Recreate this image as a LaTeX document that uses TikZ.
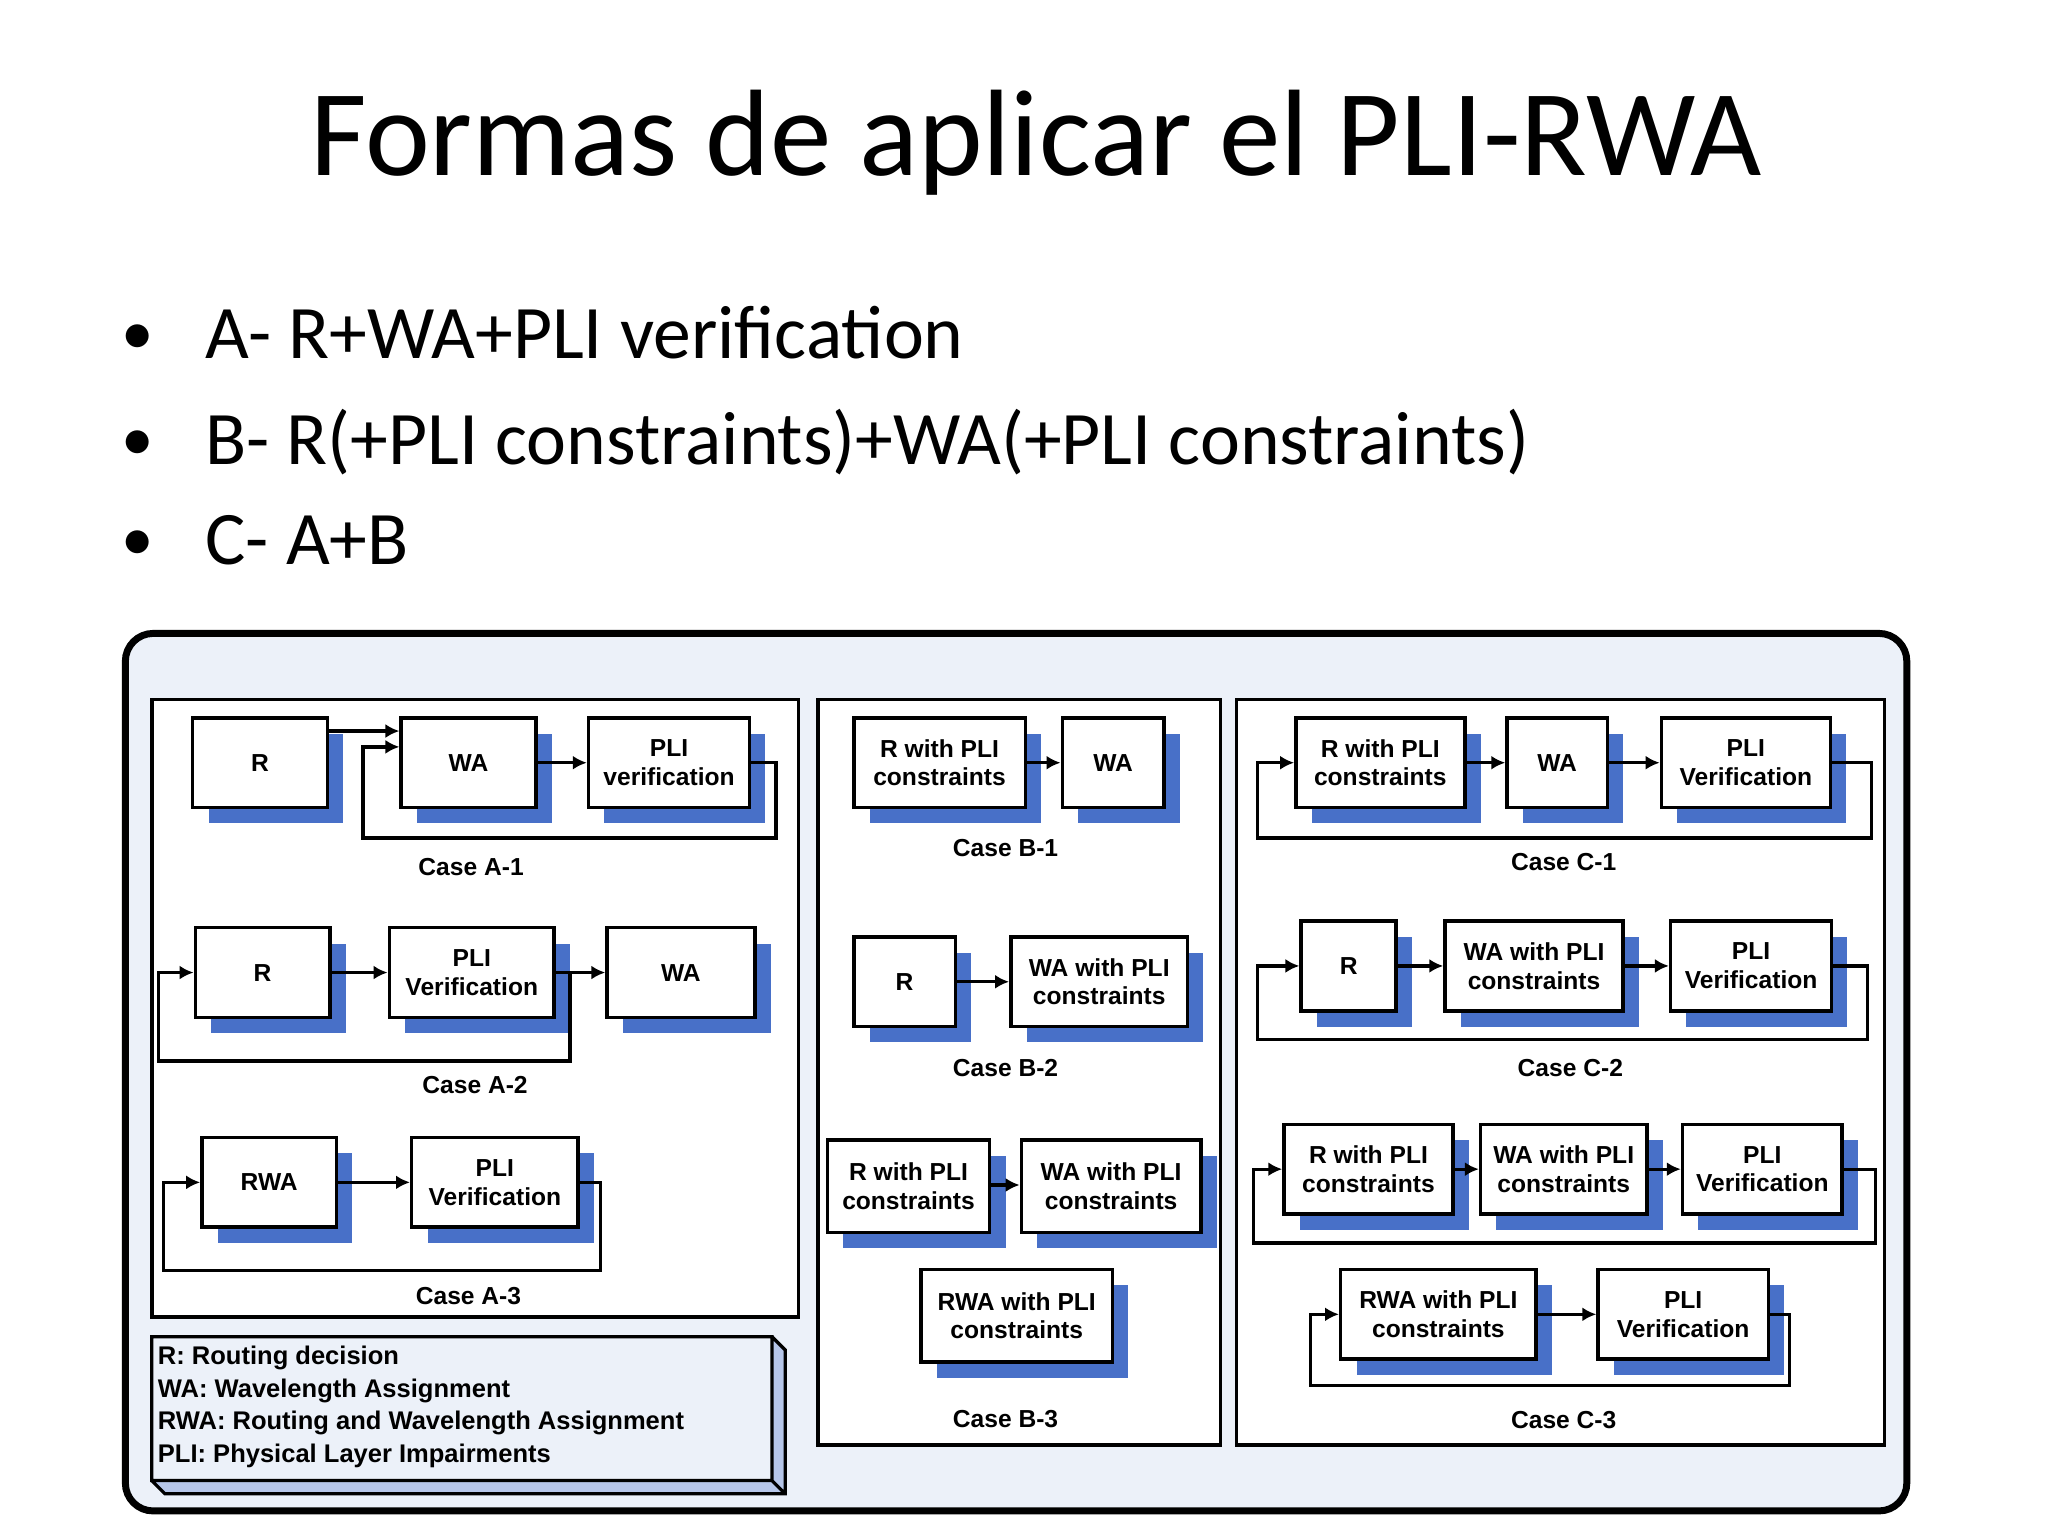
\documentclass[tikz,border=0pt]{standalone}
\usepackage{fontspec}
\setmainfont{Carlito}
\newfontfamily\dg{Liberation Sans}
\usetikzlibrary{arrows.meta,shadows}
\definecolor{shblue}{RGB}{72,112,200}
\definecolor{panelbg}{RGB}{236,241,249}
\tikzset{
 box/.style={draw=black,line width=0.75pt,fill=white,inner sep=1pt,align=center,font=\dg\bfseries\fontsize{5.3}{6.2}\selectfont,
  drop shadow={shadow xshift=0.12cm,shadow yshift=-0.12cm,fill=shblue,opacity=1}},
 arr/.style={line width=0.7pt,-{Latex[length=3pt,width=3pt]}},
 panel/.style={draw=black,line width=0.8pt,fill=white},
 lbl/.style={font=\dg\bfseries\fontsize{5.3}{6.2}\selectfont},
}
\newcommand\bx[6]{\pgfmathsetmacro\bw{(#4-#2)*0.01}\pgfmathsetmacro\bh{(#5-#3)*0.01}%
 \node[box,minimum width=\bw cm,minimum height=\bh cm] (#1) at ({(#2+#4)/2},{(#3+#5)/2}) {#6};}
\begin{document}
\begin{tikzpicture}[x=0.01cm,y=-0.01cm]
\useasboundingbox (0,0) rectangle (1552,1164);
\node[anchor=base,font=\fontsize{26.5}{29}\selectfont] (title) at (785,133) {Formas de aplicar el PLI-RWA};
\foreach \t/\y [count=\i] in {{A- R+WA+PLI verification}/272,{B- R(+PLI constraints)+WA(+PLI constraints)}/352,{C- A+B}/428}{
 \node[anchor=base,font=\fontsize{14}{16}\selectfont] (bul\i) at (104,\y-3) {•};
 \node[anchor=base west,font=\fontsize{16.3}{18}\selectfont,inner sep=0] (bt\i) at (155,\y) {\t};}
\draw[line width=1.5pt,rounded corners=6pt,fill=panelbg] (95,480) rectangle (1445,1145);
\draw[panel] (115,530) rectangle (605,998);
\draw[panel] (620,530) rectangle (925,1095);
\draw[panel] (937,530) rectangle (1428,1095);
% legend
\fill[shblue!40] (115,1122) -- (585,1122) -- (595,1132) -- (125,1132) -- cycle;
\fill[shblue!40] (585,1013) -- (595,1023) -- (595,1132) -- (585,1122) -- cycle;
\draw[line width=0.7pt] (115,1013) rectangle (585,1122) (585,1013) -- (595,1023) -- (595,1132) -- (125,1132) -- (115,1122) (585,1122)--(595,1132);
\node[lbl,anchor=north west,align=left,inner sep=0,font=\dg\bfseries\fontsize{5.5}{7.1}\selectfont] (leg) at (119,1019) {R: Routing decision\\WA: Wavelength Assignment\\RWA: Routing and Wavelength Assignment\\PLI: Physical Layer Impairments};
% A-1
\bx{a1r}{146}{544}{248}{612}{R}
\bx{a1w}{304}{544}{406}{612}{WA}
\bx{a1p}{446}{544}{568}{612}{PLI\\verification}
\draw[arr] (a1r.east|-0,554) -- (a1w.west|-0,554);
\draw[arr] (a1w.east|-0,578) -- (a1p.west|-0,578);
\draw[arr] (a1p.east|-0,578) -- (588,578) -- (588,635) -- (275,635) -- (275,566) -- (a1w.west|-0,566);
\node[lbl] (la1) at (357,657) {Case A-1};
% A-2
\bx{a2r}{148}{703}{250}{771}{R}
\bx{a2p}{295}{703}{420}{771}{PLI\\Verification}
\bx{a2w}{460}{703}{572}{771}{WA}
\draw[arr] (a2r.east|-0,737) -- (a2p.west|-0,737);
\draw[arr] (a2p.east|-0,737) -- (a2w.west|-0,737);
\draw[arr] (a2p.east|-0,737) -- (432,737) -- (432,804) -- (120,804) -- (120,737) -- (a2r.west|-0,737);
\node[lbl] (la2) at (360,822) {Case A-2};
% A-3
\bx{a3r}{153}{862}{255}{930}{RWA}
\bx{a3p}{312}{862}{438}{930}{PLI\\Verification}
\draw[arr] (a3r.east|-0,896) -- (a3p.west|-0,896);
\draw[arr] (a3p.east|-0,896) -- (455,896) -- (455,963) -- (124,963) -- (124,896) -- (a3r.west|-0,896);
\node[lbl] (la3) at (355,982) {Case A-3};
% B-1
\bx{b1r}{647}{544}{777}{612}{R with PLI\\constraints}
\bx{b1w}{805}{544}{882}{612}{WA}
\draw[arr] (b1r.east|-0,578) -- (b1w.west|-0,578);
\node[lbl] (lb1) at (762,643) {Case B-1};
% B-2
\bx{b2r}{647}{710}{724}{778}{R}
\bx{b2w}{766}{710}{900}{778}{WA with PLI\\constraints}
\draw[arr] (b2r.east|-0,744) -- (b2w.west|-0,744);
\node[lbl] (lb2) at (762,809) {Case B-2};
% B-3
\bx{b3r}{627}{864}{750}{934}{R with PLI\\constraints}
\bx{b3w}{774}{864}{910}{934}{WA with PLI\\constraints}
\draw[arr] (b3r.east|-0,898) -- (b3w.west|-0,898);
\bx{b3x}{698}{962}{843}{1032}{RWA with PLI\\constraints}
\node[lbl] (lb3) at (762,1075) {Case B-3};
% C-1
\bx{c1r}{982}{544}{1110}{612}{R with PLI\\constraints}
\bx{c1w}{1142}{544}{1218}{612}{WA}
\bx{c1p}{1259}{544}{1387}{612}{PLI\\Verification}
\draw[arr] (c1r.east|-0,578) -- (c1w.west|-0,578);
\draw[arr] (c1w.east|-0,578) -- (c1p.west|-0,578);
\draw[arr] (c1p.east|-0,578) -- (1418,578) -- (1418,635) -- (953,635) -- (953,578) -- (c1r.west|-0,578);
\node[lbl] (lc1) at (1185,653) {Case C-1};
% C-2
\bx{c2r}{986}{698}{1058}{766}{R}
\bx{c2w}{1095}{698}{1230}{766}{WA with PLI\\constraints}
\bx{c2p}{1266}{698}{1388}{766}{PLI\\Verification}
\draw[arr] (c2r.east|-0,732) -- (c2w.west|-0,732);
\draw[arr] (c2w.east|-0,732) -- (c2p.west|-0,732);
\draw[arr] (c2p.east|-0,732) -- (1415,732) -- (1415,788) -- (953,788) -- (953,732) -- (c2r.west|-0,732);
\node[lbl] (lc2) at (1190,809) {Case C-2};
% C-3
\bx{c3r}{973}{852}{1101}{920}{R with PLI\\constraints}
\bx{c3w}{1122}{852}{1248}{920}{WA with PLI\\constraints}
\bx{c3p}{1275}{852}{1396}{920}{PLI\\Verification}
\draw[arr] (c3r.east|-0,886) -- (c3w.west|-0,886);
\draw[arr] (c3w.east|-0,886) -- (c3p.west|-0,886);
\draw[arr] (c3p.east|-0,886) -- (1421,886) -- (1421,942) -- (950,942) -- (950,886) -- (c3r.west|-0,886);
\bx{c3x}{1016}{962}{1164}{1030}{RWA with PLI\\constraints}
\bx{c3q}{1211}{962}{1340}{1030}{PLI\\Verification}
\draw[arr] (c3x.east|-0,996) -- (c3q.west|-0,996);
\draw[arr] (c3q.east|-0,996) -- (1356,996) -- (1356,1050) -- (993,1050) -- (993,996) -- (c3x.west|-0,996);
\node[lbl] (lc3) at (1185,1076) {Case C-3};
\end{tikzpicture}
\end{document}
